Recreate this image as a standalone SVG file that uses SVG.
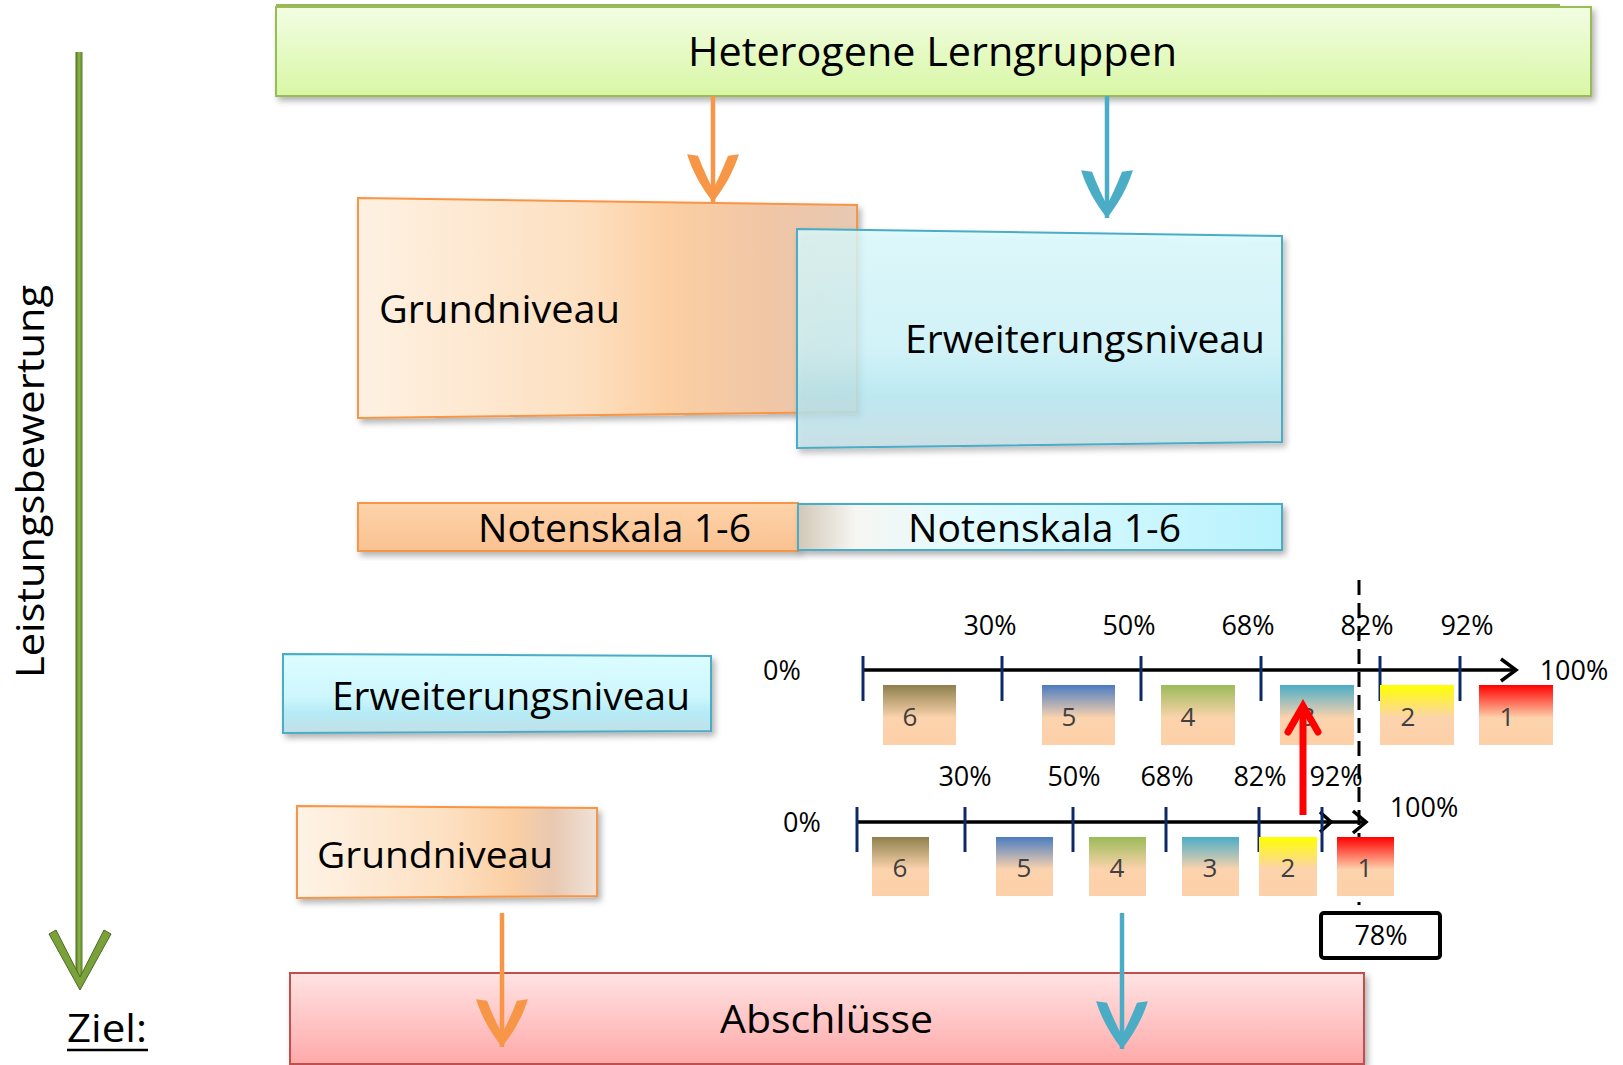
<svg xmlns="http://www.w3.org/2000/svg" width="1623" height="1065" viewBox="0 0 1623 1065">
<style>
.t{font-family:"Open Sans","Noto Sans",sans-serif;fill:#000}
.pct{font-family:"Open Sans","Noto Sans",sans-serif;font-size:27px;fill:#000;text-anchor:middle}
.dig{font-family:"Open Sans","Noto Sans",sans-serif;font-size:26px;fill:#404040;text-anchor:middle}
.tick{stroke:#0d2a66;stroke-width:3}
.axis{stroke:#000;stroke-width:3.5;fill:none}
.ob{stroke:#f79646;stroke-width:2}
.bb{stroke:#4bacc6;stroke-width:2}
</style>
<defs>
<filter id="sh" x="-10%" y="-10%" width="125%" height="130%">
<feDropShadow dx="3" dy="4" stdDeviation="3" flood-color="#000" flood-opacity="0.3"/>
</filter>
<linearGradient id="gTop" x1="0" y1="0" x2="0" y2="1"><stop offset="0" stop-color="#f2fde3"/><stop offset="1" stop-color="#d8f7a5"/></linearGradient>
<linearGradient id="gOrH" x1="0" y1="0" x2="1" y2="0"><stop offset="0" stop-color="#fef1e2"/><stop offset="0.45" stop-color="#fde0c1"/><stop offset="0.62" stop-color="#fccfa3"/><stop offset="0.82" stop-color="#f0c6a6"/><stop offset="1" stop-color="#e8c9b3"/></linearGradient>
<linearGradient id="gOrS" x1="0" y1="0" x2="1" y2="0"><stop offset="0" stop-color="#fef3e6"/><stop offset="0.5" stop-color="#fde0c1"/><stop offset="0.72" stop-color="#fbcfa4"/><stop offset="0.85" stop-color="#e9c8b0"/><stop offset="1" stop-color="#efe2d8"/></linearGradient>
<linearGradient id="gBl" x1="0" y1="0" x2="0" y2="1"><stop offset="0" stop-color="#dcfdff"/><stop offset="0.55" stop-color="#cdf6fd"/><stop offset="0.75" stop-color="#b5ebf6"/><stop offset="1" stop-color="#c3dfe6"/></linearGradient>
<linearGradient id="gNo" x1="0" y1="0" x2="0" y2="1"><stop offset="0" stop-color="#fdd3a9"/><stop offset="1" stop-color="#fac292"/></linearGradient>
<linearGradient id="gNb" x1="0" y1="0" x2="1" y2="0"><stop offset="0" stop-color="#d2c8b8"/><stop offset="0.12" stop-color="#f6f6f2"/><stop offset="0.35" stop-color="#e2fbff"/><stop offset="1" stop-color="#b8f2fd"/></linearGradient>
<linearGradient id="gAb" x1="0" y1="0" x2="0" y2="1"><stop offset="0" stop-color="#ffe3e3"/><stop offset="1" stop-color="#ffa9a9"/></linearGradient>
<linearGradient id="gGreen" x1="0" y1="0" x2="1" y2="0"><stop offset="0" stop-color="#4f6a22"/><stop offset="0.5" stop-color="#8db849"/><stop offset="1" stop-color="#5d7c2a"/></linearGradient>
<linearGradient id="g6" x1="0" y1="0" x2="0" y2="1"><stop offset="0" stop-color="#8c804c"/><stop offset="0.55" stop-color="#fcd3ad"/><stop offset="1" stop-color="#fdd0a8"/></linearGradient>
<linearGradient id="g5" x1="0" y1="0" x2="0" y2="1"><stop offset="0" stop-color="#4a7cc0"/><stop offset="0.55" stop-color="#fcd3ad"/><stop offset="1" stop-color="#fdd0a8"/></linearGradient>
<linearGradient id="g4" x1="0" y1="0" x2="0" y2="1"><stop offset="0" stop-color="#9bbb59"/><stop offset="0.55" stop-color="#fcd3ad"/><stop offset="1" stop-color="#fdd0a8"/></linearGradient>
<linearGradient id="g3" x1="0" y1="0" x2="0" y2="1"><stop offset="0" stop-color="#4badc7"/><stop offset="0.55" stop-color="#fcd3ad"/><stop offset="1" stop-color="#fdd0a8"/></linearGradient>
<linearGradient id="g2" x1="0" y1="0" x2="0" y2="1"><stop offset="0" stop-color="#ffff00"/><stop offset="0.55" stop-color="#fcd3ad"/><stop offset="1" stop-color="#fdd0a8"/></linearGradient>
<linearGradient id="g1" x1="0" y1="0" x2="0" y2="1"><stop offset="0" stop-color="#ff0000"/><stop offset="0.55" stop-color="#fcd3ad"/><stop offset="1" stop-color="#fdd0a8"/></linearGradient>
<marker id="mO" markerUnits="userSpaceOnUse" orient="auto" refX="0" refY="0" markerWidth="60" markerHeight="60" viewBox="-40 -22 44 44" overflow="visible">
<path d="M0,0 C-10,-8 -22,-15 -35,-19 L-34,-11 C-24,-7 -15,-3 -10,0 C-15,3 -24,7 -34,11 L-35,19 C-22,15 -10,8 0,0 Z" fill="#f79646"/>
</marker>
<marker id="mB" markerUnits="userSpaceOnUse" orient="auto" refX="0" refY="0" markerWidth="60" markerHeight="60" viewBox="-40 -22 44 44" overflow="visible">
<path d="M0,0 C-10,-8 -22,-15 -35,-19 L-34,-11 C-24,-7 -15,-3 -10,0 C-15,3 -24,7 -34,11 L-35,19 C-22,15 -10,8 0,0 Z" fill="#4bacc6"/>
</marker>
</defs>

<!-- side axis -->
<g id="leistungsbewertung">
<rect x="75.5" y="52" width="7" height="928" fill="url(#gGreen)"/>
<path d="M49,934 L56,930 L80,977 L104,930 L111,934 L80,990 Z" fill="#7aa23a" stroke="#4f6a22" stroke-width="1"/>
<text class="t" font-size="38" transform="translate(44,678) rotate(-90)" textLength="393" lengthAdjust="spacingAndGlyphs">Leistungsbewertung</text>
</g>
<g id="ziel">
<text class="t" x="67" y="1042" font-size="38" textLength="80" lengthAdjust="spacingAndGlyphs">Ziel:</text>
<line x1="67" y1="1050" x2="148" y2="1050" stroke="#000" stroke-width="2.5"/>
</g>

<g id="heterogene">
<line x1="276" y1="5" x2="1560" y2="5" stroke="#9bbb59" stroke-width="2"/>
<rect x="276" y="7" width="1315" height="89" fill="url(#gTop)" stroke="#9bbb59" stroke-width="2" filter="url(#sh)"/>
<text class="t" x="688" y="66" font-size="40" textLength="489" lengthAdjust="spacingAndGlyphs">Heterogene Lerngruppen</text>
</g>

<g id="grundniveau-gross">
<polygon points="358,198 857,205 857,412 358,418" fill="url(#gOrH)" class="ob" filter="url(#sh)"/>
<text class="t" x="379" y="323" font-size="39" textLength="241" lengthAdjust="spacingAndGlyphs">Grundniveau</text>
</g>
<g id="erweiterungsniveau-gross">
<polygon points="797,229 1282,236 1282,442 797,448" fill="url(#gBl)" fill-opacity="0.78" class="bb" filter="url(#sh)"/>
<text class="t" x="905" y="353" font-size="39" textLength="360" lengthAdjust="spacingAndGlyphs">Erweiterungsniveau</text>
</g>

<g id="notenskala-grund">
<rect x="358" y="503" width="440" height="48" fill="url(#gNo)" class="ob" filter="url(#sh)"/>
<text class="t" x="478" y="542" font-size="38" textLength="273" lengthAdjust="spacingAndGlyphs">Notenskala 1-6</text>
</g>
<g id="notenskala-erw">
<rect x="798" y="504" width="484" height="46" fill="url(#gNb)" class="bb" filter="url(#sh)"/>
<text class="t" x="908" y="542" font-size="38" textLength="273" lengthAdjust="spacingAndGlyphs">Notenskala 1-6</text>
</g>

<g id="erweiterungsniveau-klein">
<polygon points="283,654 711,656 711,731 283,733" fill="url(#gBl)" class="bb" filter="url(#sh)"/>
<text class="t" x="332" y="710" font-size="39" textLength="358" lengthAdjust="spacingAndGlyphs">Erweiterungsniveau</text>
</g>
<g id="grundniveau-klein">
<polygon points="297,806 597,808 597,896 297,898" fill="url(#gOrS)" class="ob" filter="url(#sh)"/>
<text class="t" x="317" y="868" font-size="37" textLength="236" lengthAdjust="spacingAndGlyphs">Grundniveau</text>
</g>

<g id="abschluesse">
<rect x="290" y="973" width="1074" height="91" fill="url(#gAb)" stroke="#c0504d" stroke-width="2" filter="url(#sh)"/>
<text class="t" x="720" y="1033" font-size="38" textLength="213" lengthAdjust="spacingAndGlyphs">Abschlüsse</text>
</g>

<g id="connectors">
<line x1="713" y1="96" x2="713" y2="202" stroke="#f79646" stroke-width="4.5" marker-end="url(#mO)"/>
<line x1="1107" y1="96" x2="1107" y2="218" stroke="#4bacc6" stroke-width="4.5" marker-end="url(#mB)"/>
<line x1="502" y1="913" x2="502" y2="1047" stroke="#f79646" stroke-width="4.5" marker-end="url(#mO)"/>
<line x1="1122" y1="913" x2="1122" y2="1049" stroke="#4bacc6" stroke-width="4.5" marker-end="url(#mB)"/>
<line x1="1359" y1="580" x2="1359" y2="905" stroke="#000" stroke-width="3" stroke-dasharray="15 8"/>
</g>

<!-- upper scale -->
<g id="skala-erweiterung">
<line class="axis" x1="863" y1="670" x2="1515" y2="670"/>
<polyline class="axis" points="1501,659 1516,670 1501,681"/>
<line class="tick" x1="863" y1="656" x2="863" y2="701"/>
<line class="tick" x1="1002" y1="656" x2="1002" y2="701"/>
<line class="tick" x1="1141" y1="656" x2="1141" y2="701"/>
<line class="tick" x1="1261" y1="656" x2="1261" y2="701"/>
<line class="tick" x1="1380" y1="656" x2="1380" y2="701"/>
<line class="tick" x1="1460" y1="656" x2="1460" y2="701"/>
<text class="pct" x="782" y="680">0%</text>
<text class="pct" x="990" y="635">30%</text>
<text class="pct" x="1129" y="635">50%</text>
<text class="pct" x="1248" y="635">68%</text>
<text class="pct" x="1367" y="635">82%</text>
<text class="pct" x="1467" y="635">92%</text>
<text class="pct" x="1574" y="680">100%</text>
<rect x="883" y="685" width="73" height="60" fill="url(#g6)"/><text class="dig" x="910" y="726">6</text>
<rect x="1042" y="685" width="73" height="60" fill="url(#g5)"/><text class="dig" x="1069" y="726">5</text>
<rect x="1161" y="685" width="74" height="60" fill="url(#g4)"/><text class="dig" x="1188" y="726">4</text>
<rect x="1280" y="685" width="74" height="60" fill="url(#g3)"/><text class="dig" x="1308" y="726">3</text>
<rect x="1380" y="685" width="74" height="60" fill="url(#g2)"/><text class="dig" x="1408" y="726">2</text>
<rect x="1479" y="685" width="74" height="60" fill="url(#g1)"/><text class="dig" x="1507" y="726">1</text>
</g>

<!-- lower scale -->
<g id="skala-grund">
<line class="axis" x1="857" y1="822" x2="1365" y2="822"/>
<polyline class="axis" points="1320,812 1331,822 1320,832"/>
<polyline class="axis" points="1353,811 1366,822 1353,833"/>
<line class="tick" x1="857" y1="807" x2="857" y2="852"/>
<line class="tick" x1="965" y1="807" x2="965" y2="852"/>
<line class="tick" x1="1073" y1="807" x2="1073" y2="852"/>
<line class="tick" x1="1166" y1="807" x2="1166" y2="852"/>
<line class="tick" x1="1259" y1="807" x2="1259" y2="852"/>
<line class="tick" x1="1322" y1="807" x2="1322" y2="852"/>
<text class="pct" x="802" y="832">0%</text>
<text class="pct" x="965" y="786">30%</text>
<text class="pct" x="1074" y="786">50%</text>
<text class="pct" x="1167" y="786">68%</text>
<text class="pct" x="1260" y="786">82%</text>
<text class="pct" x="1336" y="786">92%</text>
<text class="pct" x="1424" y="817">100%</text>
<rect x="872" y="837" width="57" height="59" fill="url(#g6)"/><text class="dig" x="900" y="877">6</text>
<rect x="996" y="837" width="57" height="59" fill="url(#g5)"/><text class="dig" x="1024" y="877">5</text>
<rect x="1089" y="837" width="57" height="59" fill="url(#g4)"/><text class="dig" x="1117" y="877">4</text>
<rect x="1182" y="837" width="57" height="59" fill="url(#g3)"/><text class="dig" x="1210" y="877">3</text>
<rect x="1259" y="837" width="58" height="59" fill="url(#g2)"/><text class="dig" x="1288" y="877">2</text>
<rect x="1337" y="837" width="57" height="59" fill="url(#g1)"/><text class="dig" x="1365" y="877">1</text>
</g>

<g id="wert-78">
<rect x="1321" y="913" width="119" height="45" rx="3" fill="#fff" stroke="#000" stroke-width="4"/>
<text class="pct" x="1381" y="945" font-size="24">78%</text>
</g>

<g id="connector-red">
<line x1="1303" y1="815" x2="1303" y2="708" stroke="#ff0000" stroke-width="7"/>
<polyline points="1288,732 1303,706 1318,732" fill="none" stroke="#ff0000" stroke-width="7" stroke-linecap="round"/>
</g>
</svg>
